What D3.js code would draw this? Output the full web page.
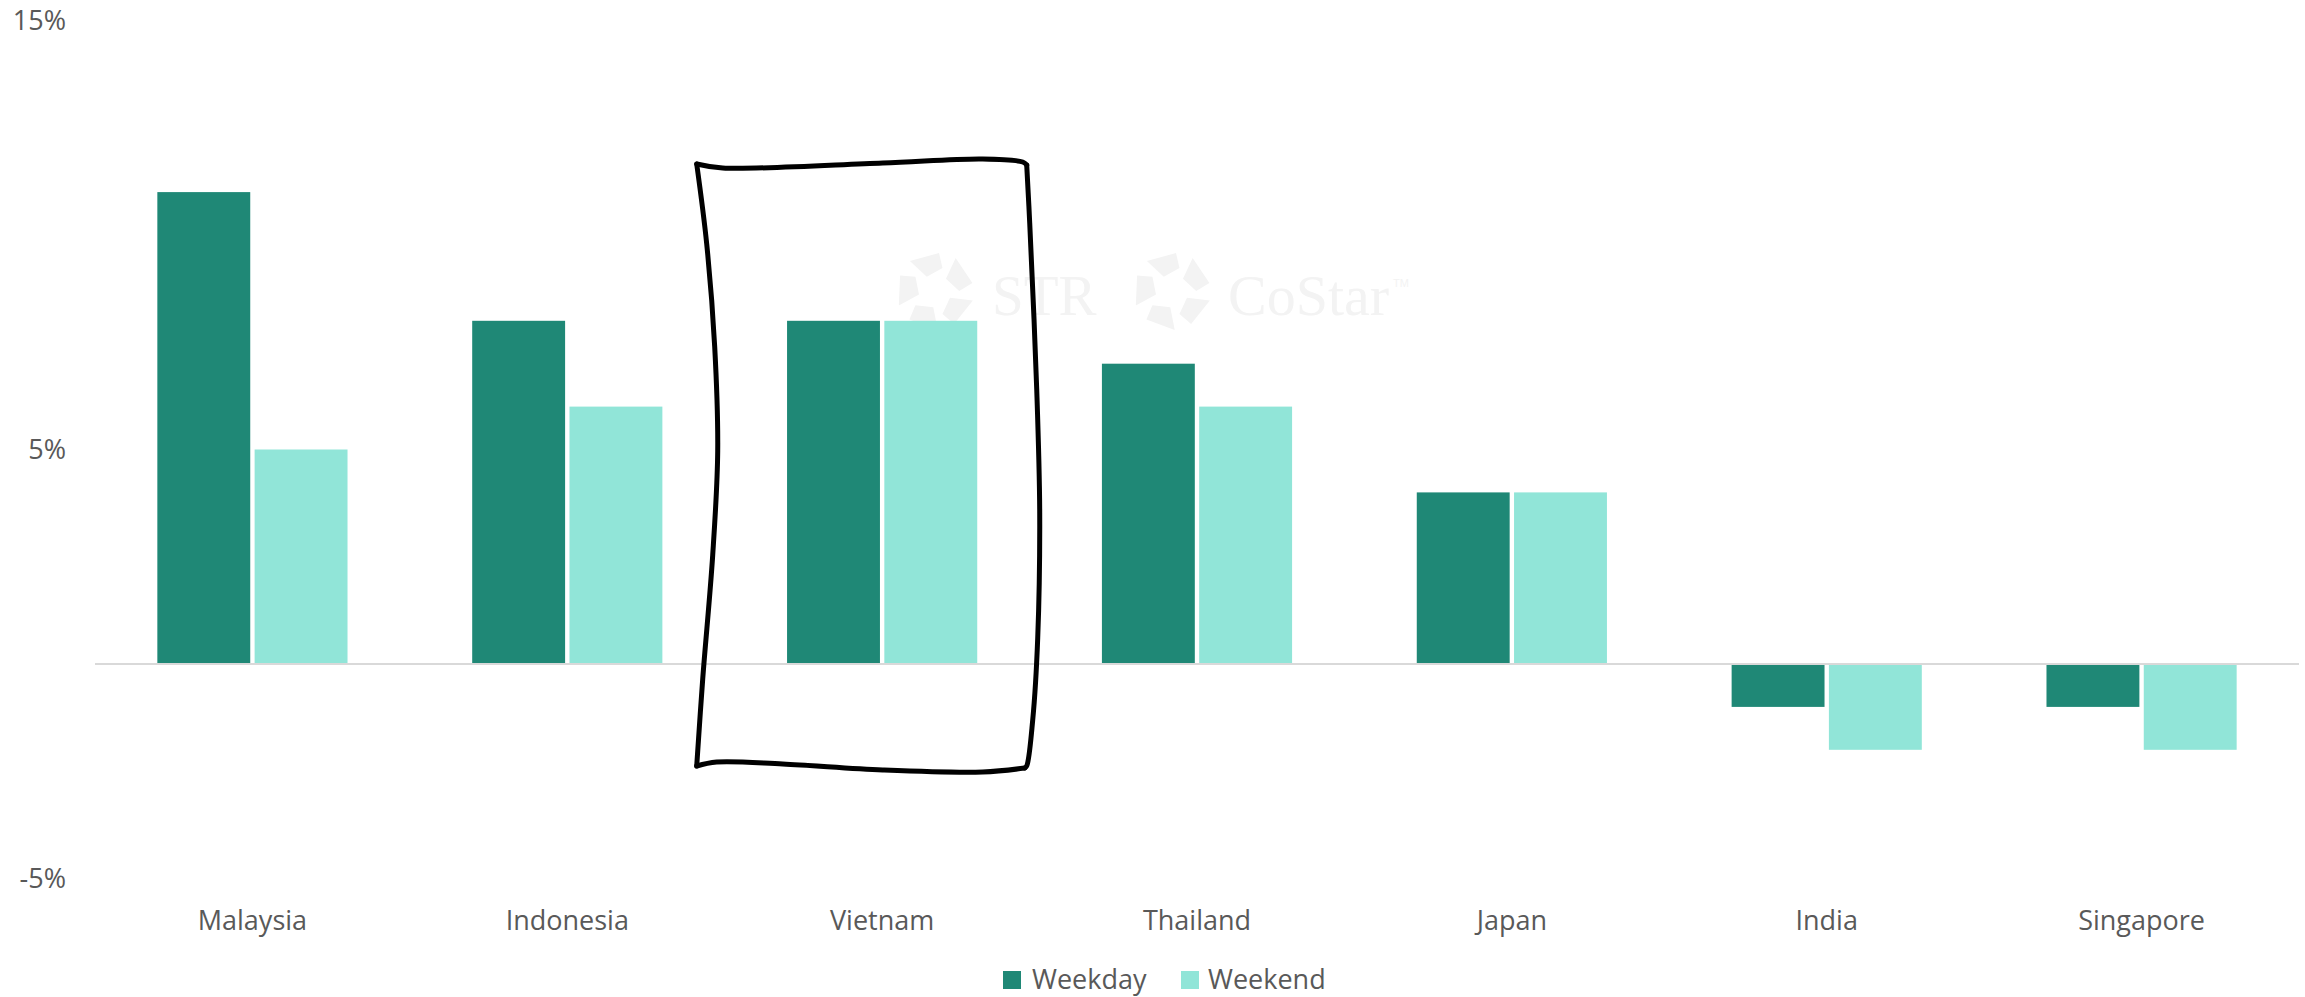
<!DOCTYPE html>
<html>
<head>
<meta charset="utf-8">
<script src="https://cdn.jsdelivr.net/npm/d3@7/dist/d3.min.js"></script>
<style>
  html, body { margin: 0; padding: 0; background: #ffffff; }
  svg { display: block; }
  text { font-family: "Open Sans", "Noto Sans", sans-serif; fill: #595959; }
</style>
</head>
<body>
<svg id="chart" width="2305" height="997"></svg>
<script>
// Change in occupancy by market, weekday vs weekend (percentage points)
const categories = ["Malaysia", "Indonesia", "Vietnam", "Thailand", "Japan", "India", "Singapore"];
const seriesNames = ["Weekday", "Weekend"];
const weekday = [11, 8, 8, 7, 4, -1, -1];
const weekend = [5, 6, 8, 6, 4, -2, -2];
const yTicks = [15, 5, -5];
const colors = { Weekday: "#1f8876", Weekend: "#91e5d8" };

const rows = categories.map((c, i) => ({ category: c, Weekday: weekday[i], Weekend: weekend[i] }));

const svg = d3.select("#chart");
const plot = { left: 95, right: 2299, top: 20.5, bottom: 878.5 };

const x0 = d3.scaleBand().domain(categories).range([plot.left, plot.right]).padding(0);
const x1 = d3.scaleBand().domain(seriesNames)
  .range([x0.bandwidth() * 0.198, x0.bandwidth() * 0.802])
  .paddingInner(0.045).paddingOuter(0);
const y = d3.scaleLinear().domain([-5, 15]).range([plot.bottom, plot.top]);

// Faint brand watermark behind the bars
const wm = svg.append("g").attr("class", "watermark");
function pinwheel(g, cx, cy, r) {
  const shard = [[0.42, -30], [1.0, -40], [0.98, 6], [0.62, 18]];
  for (let i = 0; i < 5; i++) {
    const base = -90 + i * 72;
    const pts = shard.map(([rr, a]) => {
      const t = (base + a) * Math.PI / 180;
      return [cx + rr * r * Math.cos(t), cy + rr * r * Math.sin(t)];
    });
    g.append("polygon").attr("points", pts.map(p => p.join(",")).join(" "))
      .attr("fill", "#f3f3f3");
  }
}
pinwheel(wm, 935, 291, 39);
pinwheel(wm, 1172, 291, 39);
wm.append("text").attr("x", 992).attr("y", 315)
  .style("font-family", "'Liberation Serif', 'DejaVu Serif', serif")
  .style("font-size", "57px").style("fill", "#f3f3f3").text("STR");
wm.append("text").attr("x", 1228).attr("y", 315)
  .style("font-family", "'Liberation Serif', 'DejaVu Serif', serif")
  .style("font-size", "58px").style("fill", "#f3f3f3").text("CoStar");
wm.append("text").attr("x", 1393).attr("y", 287)
  .style("font-family", "'Liberation Sans', sans-serif")
  .style("font-size", "11px").style("fill", "#f3f3f3").text("TM");

// Bars
const groups = svg.append("g").selectAll("g")
  .data(rows).join("g")
  .attr("transform", d => `translate(${x0(d.category)},0)`);

groups.selectAll("rect")
  .data(d => seriesNames.map(s => ({ key: s, value: d[s] })))
  .join("rect")
  .attr("x", d => x1(d.key))
  .attr("width", x1.bandwidth())
  .attr("y", d => y(Math.max(0, d.value)))
  .attr("height", d => Math.abs(y(d.value) - y(0)))
  .attr("fill", d => colors[d.key]);

// Zero line
svg.append("line")
  .attr("x1", plot.left).attr("x2", plot.right)
  .attr("y1", y(0)).attr("y2", y(0))
  .attr("stroke", "#d9d9d9").attr("stroke-width", 2);

// Y tick labels
svg.append("g").selectAll("text")
  .data(yTicks).join("text")
  .attr("x", 66).attr("y", d => y(d))
  .attr("dy", "0.36em")
  .attr("text-anchor", "end")
  .style("font-size", "27px")
  .text(d => d + "%");

// Category labels
svg.append("g").selectAll("text")
  .data(categories).join("text")
  .attr("x", d => x0(d) + x0.bandwidth() / 2)
  .attr("y", 930)
  .attr("text-anchor", "middle")
  .style("font-size", "27px")
  .text(d => d);

// Legend
const legendItems = [
  { key: "Weekday", sx: 1003, tx: 1032 },
  { key: "Weekend", sx: 1181, tx: 1208 }
];
const lg = svg.append("g");
lg.selectAll("rect").data(legendItems).join("rect")
  .attr("x", d => d.sx).attr("y", 971)
  .attr("width", 18).attr("height", 18)
  .attr("fill", d => colors[d.key]);
lg.selectAll("text").data(legendItems).join("text")
  .attr("x", d => d.tx).attr("y", 989)
  .style("font-size", "27px")
  .text(d => d.key);

// Hand-drawn highlight around Vietnam
const bx = x0("Vietnam"), by = y(0);
const sides = [
  [[-28, -500], [-2, -496], [158, -501], [258, -505], [298, -502], [302, -499]],
  [[302, -499], [305, -441], [312, -275], [315, -151], [313, -26], [308, 56], [302, 102], [300, 104]],
  [[300, 104], [258, 108], [158, 106], [58, 100], [-8, 98], [-28, 102]],
  [[-28, 102], [-22, 15], [-12, -109], [-7, -213], [-10, -317], [-18, -420], [-28, -500]]
];
const sketch = d3.line()
  .x(p => bx + p[0]).y(p => by + p[1])
  .curve(d3.curveCatmullRom.alpha(0.5));
svg.append("g").selectAll("path")
  .data(sides).join("path")
  .attr("d", sketch)
  .attr("fill", "none")
  .attr("stroke", "#000")
  .attr("stroke-width", 5)
  .attr("stroke-linecap", "round")
  .attr("stroke-linejoin", "round");
</script>
</body>
</html>
